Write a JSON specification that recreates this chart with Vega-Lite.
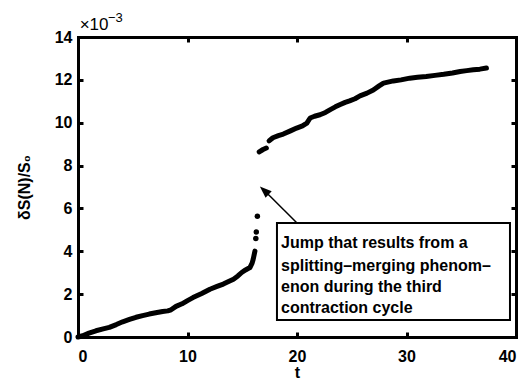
{
  "$schema": "https://vega.github.io/schema/vega-lite/v6.json",
  "width": 438,
  "height": 300,
  "autosize": "none",
  "padding": {"left": 78, "top": 37, "right": 8, "bottom": 42},
  "background": "white",
  "config": {
    "view": {"stroke": null},
    "font": "Liberation Sans",
    "axis": {
      "grid": false,
      "domainColor": "black", "domainWidth": 3, "domainCap": "square",
      "tickColor": "black", "tickWidth": 3,
      "labelFont": "Liberation Sans", "labelFontSize": 16, "labelFontWeight": "bold", "labelColor": "black",
      "titleFont": "Liberation Sans", "titleFontSize": 16, "titleFontWeight": "bold", "titleColor": "black"
    }
  },
  "datasets": {
    "curve": [
      {"t": 0, "v": 0, "seg": "a"},
      {"t": 0.43, "v": 0.00006, "seg": "a"},
      {"t": 1.0, "v": 0.00018, "seg": "a"},
      {"t": 1.64, "v": 0.00029, "seg": "a"},
      {"t": 2.3, "v": 0.00038, "seg": "a"},
      {"t": 2.86, "v": 0.00045, "seg": "a"},
      {"t": 3.5, "v": 0.00058, "seg": "a"},
      {"t": 4.08, "v": 0.00071, "seg": "a"},
      {"t": 4.7, "v": 0.00082, "seg": "a"},
      {"t": 5.3, "v": 0.00092, "seg": "a"},
      {"t": 5.9, "v": 0.001, "seg": "a"},
      {"t": 6.5, "v": 0.00107, "seg": "a"},
      {"t": 7.1, "v": 0.00113, "seg": "a"},
      {"t": 7.73, "v": 0.00119, "seg": "a"},
      {"t": 8.2, "v": 0.00122, "seg": "a"},
      {"t": 8.5, "v": 0.00127, "seg": "a"},
      {"t": 8.95, "v": 0.00143, "seg": "a"},
      {"t": 9.5, "v": 0.00155, "seg": "a"},
      {"t": 10.0, "v": 0.0017, "seg": "a"},
      {"t": 10.5, "v": 0.00184, "seg": "a"},
      {"t": 11.3, "v": 0.00203, "seg": "a"},
      {"t": 12.05, "v": 0.00223, "seg": "a"},
      {"t": 12.7, "v": 0.00236, "seg": "a"},
      {"t": 13.27, "v": 0.00247, "seg": "a"},
      {"t": 13.8, "v": 0.0026, "seg": "a"},
      {"t": 14.2, "v": 0.0027, "seg": "a"},
      {"t": 14.6, "v": 0.00285, "seg": "a"},
      {"t": 14.95, "v": 0.00301, "seg": "a"},
      {"t": 15.3, "v": 0.00313, "seg": "a"},
      {"t": 15.7, "v": 0.00324, "seg": "a"},
      {"t": 15.9, "v": 0.00345, "seg": "a"},
      {"t": 16.0, "v": 0.00363, "seg": "a"},
      {"t": 16.16, "v": 0.00401, "seg": "a"},
      {"t": 16.55, "v": 0.00864, "seg": "c"},
      {"t": 16.9, "v": 0.00875, "seg": "c"},
      {"t": 17.2, "v": 0.00882, "seg": "c"},
      {"t": 17.45, "v": 0.00915, "seg": "d"},
      {"t": 17.8, "v": 0.0093, "seg": "d"},
      {"t": 18.3, "v": 0.0094, "seg": "d"},
      {"t": 18.75, "v": 0.00947, "seg": "d"},
      {"t": 19.4, "v": 0.00962, "seg": "d"},
      {"t": 19.97, "v": 0.00975, "seg": "d"},
      {"t": 20.5, "v": 0.00985, "seg": "d"},
      {"t": 20.9, "v": 0.00998, "seg": "d"},
      {"t": 21.2, "v": 0.01022, "seg": "d"},
      {"t": 21.6, "v": 0.0103, "seg": "d"},
      {"t": 22.1, "v": 0.01037, "seg": "d"},
      {"t": 22.6, "v": 0.01048, "seg": "d"},
      {"t": 23.0, "v": 0.0106, "seg": "d"},
      {"t": 23.5, "v": 0.01074, "seg": "d"},
      {"t": 23.9, "v": 0.01084, "seg": "d"},
      {"t": 24.4, "v": 0.01095, "seg": "d"},
      {"t": 24.8, "v": 0.01102, "seg": "d"},
      {"t": 25.3, "v": 0.01112, "seg": "d"},
      {"t": 25.75, "v": 0.01125, "seg": "d"},
      {"t": 26.4, "v": 0.01138, "seg": "d"},
      {"t": 26.97, "v": 0.01153, "seg": "d"},
      {"t": 27.5, "v": 0.01172, "seg": "d"},
      {"t": 27.9, "v": 0.01185, "seg": "d"},
      {"t": 28.8, "v": 0.01195, "seg": "d"},
      {"t": 29.5, "v": 0.012, "seg": "d"},
      {"t": 30.3, "v": 0.01208, "seg": "d"},
      {"t": 31.0, "v": 0.01212, "seg": "d"},
      {"t": 31.8, "v": 0.01216, "seg": "d"},
      {"t": 32.6, "v": 0.01221, "seg": "d"},
      {"t": 33.4, "v": 0.01226, "seg": "d"},
      {"t": 34.2, "v": 0.01232, "seg": "d"},
      {"t": 34.9, "v": 0.01239, "seg": "d"},
      {"t": 35.5, "v": 0.01243, "seg": "d"},
      {"t": 36.1, "v": 0.01247, "seg": "d"},
      {"t": 36.7, "v": 0.0125, "seg": "d"},
      {"t": 37.3, "v": 0.01255, "seg": "d"}
    ],
    "dots": [
      {"t": 16.24, "v": 0.0046},
      {"t": 16.28, "v": 0.0049},
      {"t": 16.38, "v": 0.00564}
    ],
    "box": [
      {"t": 18.17, "v": 0.00532, "t2": 39.45, "v2": 0.00079}
    ],
    "notes": [
      {"t": 18.54, "v": 0.00439, "label": "Jump that results from a"},
      {"t": 18.54, "v": 0.00331, "label": "splitting–merging phenom–"},
      {"t": 18.54, "v": 0.00233, "label": "enon during the third"},
      {"t": 18.54, "v": 0.00135, "label": "contraction cycle"}
    ],
    "multiplier": [
      {"t": 0.15, "v": 0.01435, "label": "×10"}
    ],
    "exponent": [
      {"t": 2.74, "v": 0.0147, "label": "−3"}
    ],
    "arrow": [
      {"t": 20.0, "v": 0.00532, "t2": 17.11, "v2": 0.00679}
    ]
  },
  "encoding": {
    "x": {"field": "t", "type": "quantitative", "scale": {"domain": [0, 40], "nice": false, "zero": false}, "axis": null},
    "y": {"field": "v", "type": "quantitative", "scale": {"domain": [0, 0.014], "nice": false, "zero": false}, "axis": null}
  },
  "layer": [
    {
      "data": {"name": "curve"},
      "mark": {"type": "line", "color": "black", "strokeWidth": 5, "strokeCap": "round", "strokeJoin": "round"},
      "encoding": {
        "x": {"field": "t", "type": "quantitative", "scale": {"domain": [0, 40], "nice": false, "zero": false},
              "axis": {"orient": "bottom", "values": [0, 10, 20, 30, 40], "title": "t", "ticks": false, "tickSize": 0, "labelPadding": 11, "titlePadding": 0}},
        "y": {"field": "v", "type": "quantitative", "scale": {"domain": [0, 0.014], "nice": false, "zero": false},
              "axis": {"orient": "left", "values": [0, 0.002, 0.004, 0.006, 0.008, 0.01, 0.012, 0.014], "labelExpr": "format(datum.value*1000, 'd')", "title": "δS(N)/S₀", "ticks": false, "tickSize": 0, "labelPadding": 6, "titlePadding": 22}},
        "detail": {"field": "seg", "type": "nominal"}
      }
    },
    {
      "data": {"name": "dots"},
      "mark": {"type": "circle", "color": "black", "opacity": 1, "size": 30},
      "encoding": {
        "x": {"field": "t", "type": "quantitative", "scale": {"domain": [0, 40], "nice": false, "zero": false},
              "axis": {"orient": "bottom", "values": [10, 20, 30], "labels": false, "domain": false, "ticks": true, "tickSize": 5, "offset": -5, "title": null}},
        "y": {"field": "v", "type": "quantitative", "scale": {"domain": [0, 0.014], "nice": false, "zero": false},
              "axis": {"orient": "left", "values": [0.002, 0.004, 0.006, 0.008, 0.01, 0.012], "labels": false, "domain": false, "ticks": true, "tickSize": 5, "offset": -5, "title": null}}
      }
    },
    {
      "data": {"name": "box"},
      "mark": {"type": "rect", "fill": "white", "stroke": "black", "strokeWidth": 2},
      "encoding": {
        "x": {"field": "t", "type": "quantitative", "scale": {"domain": [0, 40], "nice": false, "zero": false},
              "axis": {"orient": "top", "values": [10, 20, 30], "labels": false, "domain": false, "ticks": true, "tickSize": 5, "offset": -5, "title": null}},
        "y": {"field": "v", "type": "quantitative", "scale": {"domain": [0, 0.014], "nice": false, "zero": false},
              "axis": {"orient": "right", "values": [0.002, 0.004, 0.006, 0.008, 0.01, 0.012], "labels": false, "domain": false, "ticks": true, "tickSize": 5, "offset": -5, "title": null}},
        "x2": {"field": "t2"},
        "y2": {"field": "v2"}
      }
    },
    {
      "data": {"name": "notes"},
      "mark": {"type": "text", "align": "left", "baseline": "middle", "fontSize": 16, "fontWeight": "bold", "font": "Liberation Sans", "color": "black"},
      "encoding": {
        "text": {"field": "label"},
        "x": {"field": "t", "type": "quantitative", "scale": {"domain": [0, 40], "nice": false, "zero": false},
              "axis": {"orient": "top", "values": [0, 40], "labels": false, "ticks": false, "title": null}},
        "y": {"field": "v", "type": "quantitative", "scale": {"domain": [0, 0.014], "nice": false, "zero": false},
              "axis": {"orient": "right", "values": [0, 0.014], "labels": false, "ticks": false, "title": null}}
      }
    },
    {
      "data": {"name": "multiplier"},
      "mark": {"type": "text", "align": "left", "baseline": "alphabetic", "fontSize": 17, "font": "Liberation Sans", "color": "black"},
      "encoding": {
        "text": {"field": "label"}
      }
    },
    {
      "data": {"name": "exponent"},
      "mark": {"type": "text", "align": "left", "baseline": "alphabetic", "fontSize": 13, "font": "Liberation Sans", "color": "black"},
      "encoding": {
        "text": {"field": "label"}
      }
    },
    {
      "data": {"name": "arrow"},
      "mark": {"type": "rule", "color": "black", "strokeWidth": 1.5},
      "encoding": {
        "x2": {"field": "t2"},
        "y2": {"field": "v2"}
      }
    },
    {
      "data": {"name": "arrow"},
      "mark": {"type": "point", "shape": "M0,-1L0.6,0.6L-0.6,0.6Z", "filled": true, "color": "black", "opacity": 1, "size": 225, "angle": 313},
      "encoding": {
        "x": {"field": "t2", "type": "quantitative", "scale": {"domain": [0, 40], "nice": false, "zero": false}, "axis": null},
        "y": {"field": "v2", "type": "quantitative", "scale": {"domain": [0, 0.014], "nice": false, "zero": false}, "axis": null}
      }
    }
  ],
  "resolve": {"axis": {"x": "independent", "y": "independent"}}
}
